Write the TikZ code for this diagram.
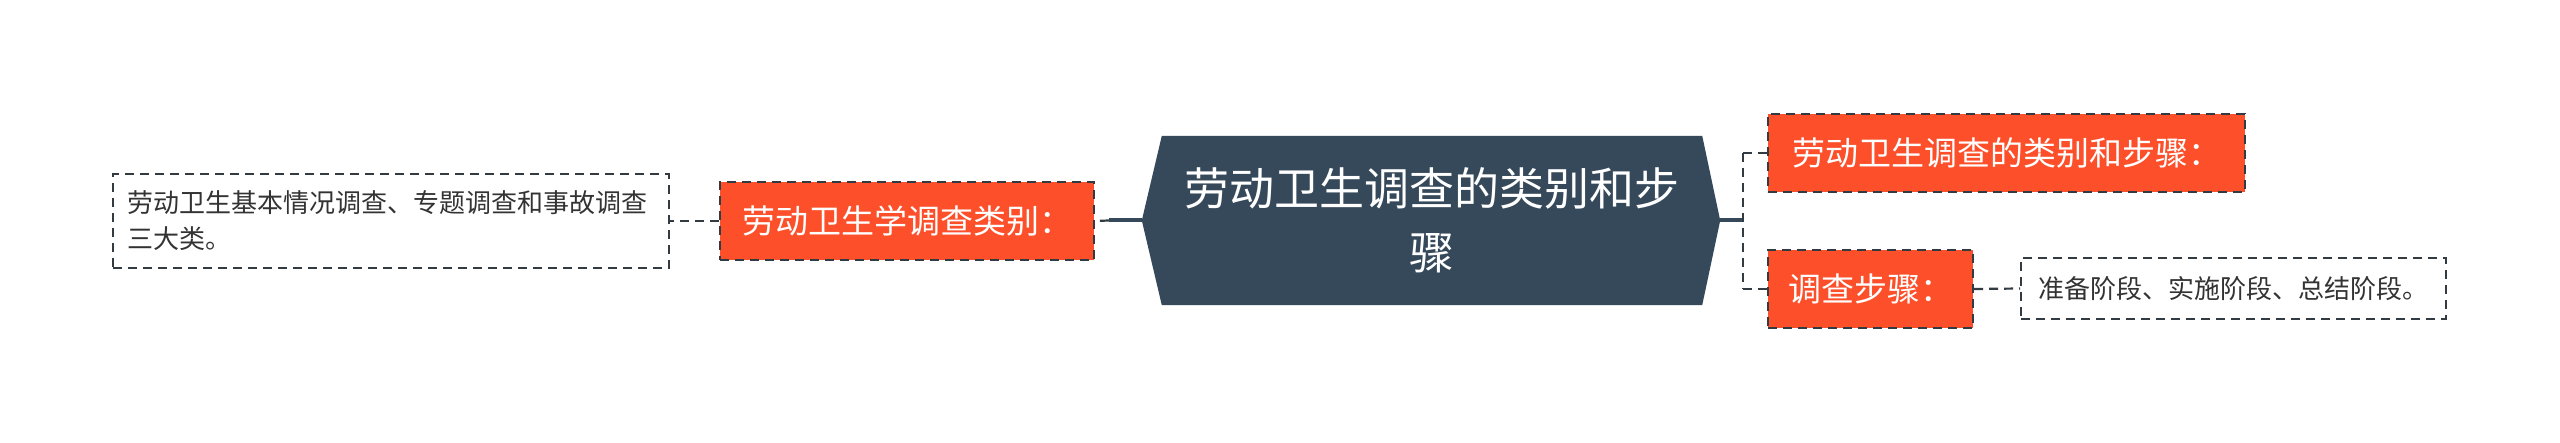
\documentclass[tikz,border=0pt]{standalone}
\usepackage{fontspec}
\setmainfont{Noto Sans CJK SC}
\usetikzlibrary{backgrounds,calc}
\definecolor{slate}{HTML}{36495A}
\definecolor{orangered}{HTML}{FC4F2A}
\definecolor{dashc}{HTML}{333B42}
\definecolor{leaftext}{HTML}{333333}
\begin{document}
\begin{tikzpicture}[x=1pt,y=-1pt,
  centerbox/.style={minimum width=540pt, minimum height=169pt, inner sep=0pt, text=white, align=center, font=\fontsize{45}{64}\selectfont},
  redbox/.style={fill=orangered, draw=dashc, line width=2pt, dash pattern=on 9pt off 6pt, text=white, font=\fontsize{33}{40}\selectfont, minimum height=78pt, inner sep=0pt},
  leafbox/.style={draw=dashc, line width=1.6pt, dash pattern=on 9pt off 6pt, text=leaftext, font=\fontsize{26}{36}\selectfont, inner sep=0pt},
  link/.style={draw=dashc, line width=2.2pt, dash pattern=on 9pt off 6pt},
  trunk/.style={draw=slate, line width=4pt}]
\useasboundingbox (0,0) rectangle (2560,443);
% central topic
\node[centerbox] (c) at (1432,220.5) {劳动卫生调查的类别和步\\骤};
\coordinate (cR) at ($(c.east)+(18,0)$);
\coordinate (cL) at ($(c.west)+(-20,0)$);
\begin{scope}[on background layer]
\fill[white] (0,0) rectangle (2560,443);
\fill[slate] (c.north west) -- (c.north east) -- (cR) -- (c.south east) -- (c.south west) -- (cL) -- cycle;
\end{scope}
% left branch
\node[redbox, minimum width=374pt] (L1) at (907,221) {劳动卫生学调查类别：};
\node[leafbox, minimum width=556pt, minimum height=94pt, text width=528pt, align=left] (L2) at (391,221) {劳动卫生基本情况调查、专题调查和事故调查\\三大类。};
% right branch
\node[redbox, minimum width=477pt] (R1) at (2006.5,153) {劳动卫生调查的类别和步骤：};
\node[redbox, minimum width=205pt] (R2) at (1870.5,289) {调查步骤：};
\node[leafbox, minimum width=425pt, minimum height=61pt] (R3) at (2233.5,288.5) {准备阶段、实施阶段、总结阶段。};
% connectors
\draw[trunk] (cL) -- ++(-33,0) coordinate (jL);
\draw[link] (jL) -- (L1.east);
\draw[link] (L1.west) -- (L2.east);
\draw[trunk] (cR) -- ++(23,0) coordinate (jR);
\draw[link] (jR |- R1.west) -- (jR |- R2.west);
\draw[link] (jR |- R1.west) -- (R1.west);
\draw[link] (jR |- R2.west) -- (R2.west);
\draw[link] (R2.east) -- (R3.west);
\end{tikzpicture}
\end{document}
